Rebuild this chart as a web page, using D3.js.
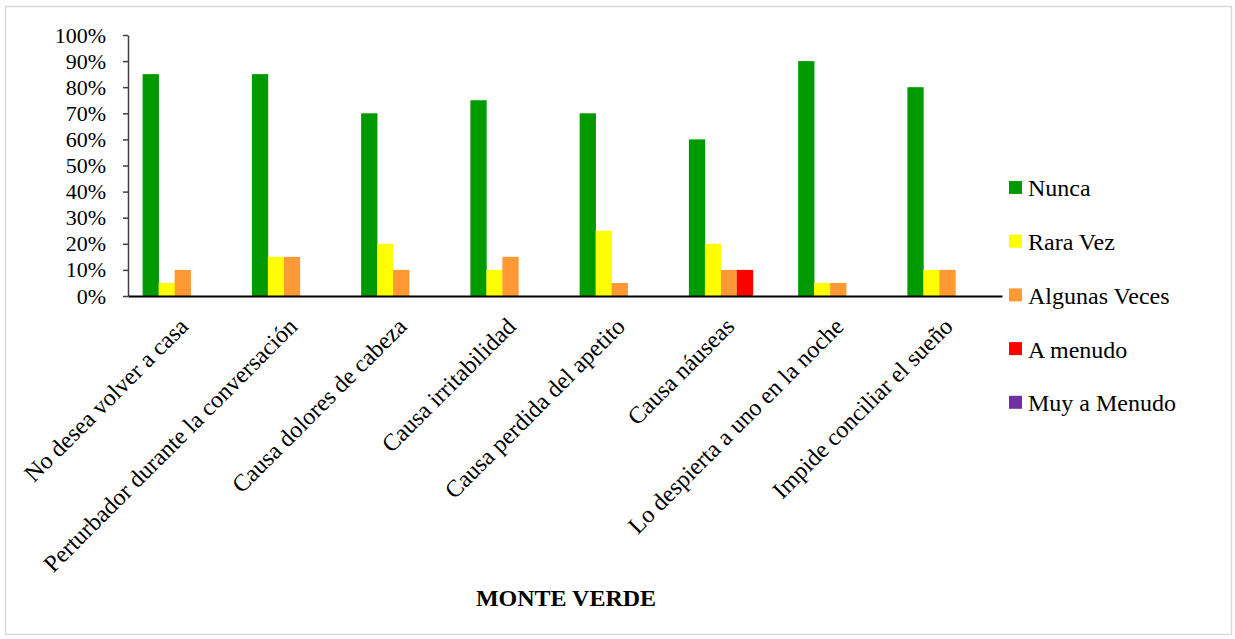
<!DOCTYPE html>
<html><head><meta charset="utf-8">
<script src="https://cdn.jsdelivr.net/npm/d3@7"></script>
<style>body{margin:0;background:#fff}svg{display:block}
svg text{font-family:"Liberation Serif","Times New Roman","DejaVu Serif",serif !important;fill:#000}</style>
</head><body>
<script>
const categories = ["No desea volver a casa","Perturbador durante la conversación","Causa dolores de cabeza","Causa irritabilidad","Causa perdida del apetito","Causa náuseas","Lo despierta a uno en la noche","Impide conciliar el sueño"];
const seriesNames = ["Nunca","Rara Vez","Algunas Veces","A menudo","Muy a Menudo"];
const seriesColors = ["#009900","#FFFF00","#FF9933","#FF0000","#7030A0"];
const nunca = [0.85,0.85,0.70,0.75,0.70,0.60,0.90,0.80];
const raraVez = [0.05,0.15,0.20,0.10,0.25,0.20,0.05,0.10];
const algunasVeces = [0.10,0.15,0.10,0.15,0.05,0.10,0.05,0.10];
const aMenudo = [0,0,0,0,0,0.10,0,0];
const muyAMenudo = [0,0,0,0,0,0,0,0];
const yTicks = [0,0.1,0.2,0.3,0.4,0.5,0.6,0.7,0.8,0.9,1.0];
const title = "MONTE VERDE";

const series = [nunca, raraVez, algunasVeces, aMenudo, muyAMenudo];
const W = 1235, H = 639;
const svg = d3.select("body").append("svg").attr("width", W).attr("height", H);
svg.append("rect").attr("x",5.5).attr("y",6.5).attr("width",1226).attr("height",628)
  .attr("fill","#fff").attr("stroke","#d9d9d9").attr("stroke-width",1.5);

const x0 = d3.scaleBand().domain(categories).range([128,1002]).paddingInner(0.268).paddingOuter(0.134);
const x1 = d3.scaleBand().domain(seriesNames).range([0, x0.bandwidth()]);
const y = d3.scaleLinear().domain([0,1]).range([296,35]);

// bars
categories.forEach((c,i)=>{
  series.forEach((s,j)=>{
    if (s[i] <= 0) return;
    svg.append("rect").attr("x", x0(c)+x1(seriesNames[j])).attr("y", y(s[i]))
      .attr("width", x1.bandwidth()+0.3).attr("height", y(0)-y(s[i])).attr("fill", seriesColors[j]);
  });
});

// y axis
const yAxis = svg.append("g").attr("transform","translate(128,0)")
  .call(d3.axisLeft(y).tickValues(yTicks).tickFormat(d3.format(".0%")).tickSize(5).tickSizeOuter(0));
yAxis.select(".domain").attr("stroke","#404040").attr("stroke-width",1.5);
yAxis.selectAll(".tick line").attr("stroke","#404040").attr("stroke-width",1.5);
yAxis.selectAll("text").attr("x",-22).attr("font-size","22px");

// x axis
const xAxis = svg.append("g").attr("transform","translate(0,296)")
  .call(d3.axisBottom(x0).tickSize(0).tickSizeOuter(0));
xAxis.select(".domain").attr("stroke","#000").attr("stroke-width",2);
xAxis.selectAll("text").attr("font-size","24px")
  .attr("text-anchor","end").attr("transform","translate(-5,20) rotate(-45)").attr("dy","0.7em").attr("y",0);

// title
svg.append("text").attr("x",566).attr("y",606).attr("text-anchor","middle")
  .attr("font-weight","bold").attr("font-size","24px").text(title);

// legend
const lg = svg.append("g");
seriesNames.forEach((n,j)=>{
  const cy = 188 + j*53.7;
  lg.append("rect").attr("x",1009).attr("y",cy-7).attr("width",13).attr("height",13).attr("fill",seriesColors[j]);
  lg.append("text").attr("x",1028).attr("y",cy).attr("dy","0.35em").attr("font-size","24px").text(n);
});
</script>
</body></html>
